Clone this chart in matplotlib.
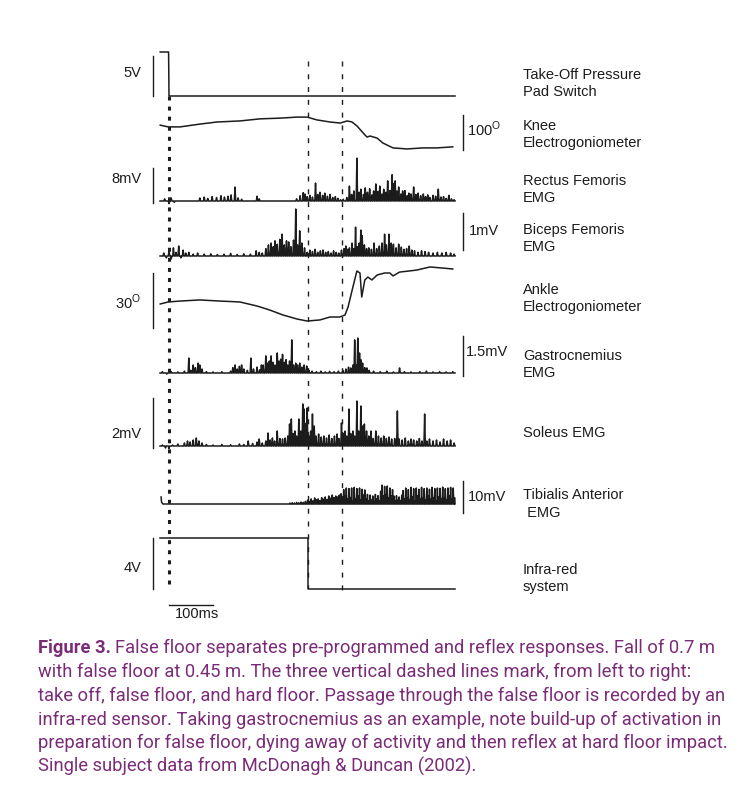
import matplotlib
matplotlib.use("Agg")
import matplotlib.pyplot as plt

plt.rcParams['font.family'] = ['Liberation Sans', 'DejaVu Sans']
plt.rcParams['mathtext.fontset'] = 'custom'
plt.rcParams['mathtext.rm'] = 'Liberation Sans'

# ---------------- data (time in ms from take-off) ----------------
events_t = [0, 316, 393]                # take off, false floor, hard floor

pad_t = [-20, -1, 0, 650]               # V
pad_v = [5.5, 5.5, 0, 0]

knee_t = [-20, -2, 25, 70, 109, 161, 207, 252, 291, 314, 336, 366, 389, 405, 416,
          427, 441, 450, 457, 473, 486, 509, 541, 577, 609, 645]
knee_v = [71, 66, 66, 74, 80, 83, 89, 91, 94, 94, 86, 80, 77, 83, 80,
          69, 49, 37, 40, 34, 20, 6, 3, 6, 6, 9]          # degrees

ankle_t = [-20, -2, 25, 70, 116, 161, 200, 229, 259, 291, 314, 343, 366, 388, 400,
           407, 418, 427, 434, 438, 445, 452, 461, 473, 490, 502, 509, 524, 563, 593, 622, 645]
ankle_v = [13.1, 14.2, 14.7, 15.3, 14.7, 14.2, 12.0, 9.8, 7.1, 4.9, 3.8, 4.4, 6.0, 6.0, 7.1,
           11.5, 22.4, 31.1, 30.0, 16.9, 26.2, 27.8, 26.2, 28.9, 30.0, 30.0, 28.4, 30.5, 31.6, 33.3, 32.7, 32.2]

ir_t = [-20, 316, 316, 650]             # V
ir_v = [4.0, 4.0, 0, 0]

# EMG peaks: (time ms, amplitude mV)
rf_spikes = [(-10, 0.5), (0, -0.6), (5, 0.7), (12, -0.3),
    (70, 0.7), (80, 0.9), (88, 0.6), (98, 1.0), (108, 0.8), (118, 1.2), (126, 0.9), (134, 1.1),
    (141, 1.4), (150, 3.2), (157, 0.7), (165, 0.4), (200, 1.1), (205, 0.5),
    (290, 0.5), (298, 1.2), (305, 1.9), (309, 1.6), (314, 1.0), (320, 1.3), (326, 0.9), (333, 4.1),
    (338, 1.5), (343, 2.0), (349, 1.3), (354, 1.8), (360, 1.1), (366, 1.5), (372, 0.8), (378, 1.0),
    (384, 0.6), (390, 0.3), (396, 0.4),
    (404, 0.8), (410, 3.4), (415, 1.5), (420, 2.3), (427, 9.8), (432, 2.0), (436, 2.7), (442, 1.5),
    (446, 3.0), (451, 2.0), (456, 2.8), (461, 1.4), (465, 2.3), (470, 3.9), (475, 2.2), (479, 3.4),
    (484, 1.6), (488, 2.7), (493, 2.0), (497, 4.6), (502, 2.4), (507, 6.0), (511, 4.0), (514, 4.6),
    (518, 2.3), (522, 3.2), (527, 1.6), (531, 2.3), (536, 2.4), (541, 1.2), (545, 1.8), (550, 1.6),
    (556, 3.2), (561, 1.5), (566, 1.8), (572, 1.2), (578, 1.6), (583, 1.0), (588, 1.4), (593, 0.8),
    (600, 1.3), (606, 1.1), (612, 2.7), (618, 0.9), (624, 1.0), (630, 0.6), (636, 1.3), (642, 0.5),
    (648, 0.3)]

bf_spikes = [(-12, 0.08), (-6, -0.05), (0, 0.16), (5, -0.08), (10, 0.22), (16, 0.1), (22, 0.27),
    (27, -0.05), (32, 0.16), (38, 0.08), (45, 0.1), (55, 0.05), (65, 0.08), (80, 0.05), (95, 0.06),
    (110, 0.04), (125, 0.05), (140, 0.07), (155, 0.04), (170, 0.06), (185, 0.05), (198, 0.14),
    (205, 0.1), (212, 0.08), (220, 0.2), (226, 0.3), (232, 0.35), (237, 0.25), (241, 0.41), (246, 0.32),
    (252, 0.45), (257, 0.59), (262, 0.3), (267, 0.41), (272, 0.38), (277, 0.25), (283, 0.43),
    (288, 1.27), (292, 0.3), (297, 0.68), (302, 0.35), (308, 0.22), (314, 0.1), (320, 0.16),
    (326, 0.12), (332, 0.18), (338, 0.1), (344, 0.14), (350, 0.16), (356, 0.1), (362, 0.12),
    (368, 0.08), (374, 0.14), (380, 0.1), (386, 0.08), (392, 0.16), (398, 0.2), (402, 0.27),
    (406, 0.18), (410, 0.22), (416, 0.35), (420, 0.2), (424, 0.78), (428, 0.25), (432, 0.35),
    (436, 0.7), (439, 0.55), (444, 0.3), (449, 0.2), (454, 0.22), (460, 0.18), (466, 0.35),
    (472, 0.2), (478, 0.27), (484, 0.35), (490, 0.59), (494, 0.3), (500, 0.59), (505, 0.35),
    (510, 0.32), (516, 0.22), (522, 0.32), (528, 0.24), (534, 0.18), (540, 0.2), (546, 0.27),
    (552, 0.16), (558, 0.14), (566, 0.1), (574, 0.14), (582, 0.12), (590, 0.1), (600, 0.08),
    (610, 0.1), (620, 0.08), (630, 0.1), (640, 0.08), (648, 0.05)]

ga_spikes = [(-15, 0.05), (-5, -0.04), (5, 0.05), (20, 0.04), (35, 0.07), (45, 0.56), (50, 0.1),
    (55, 0.3), (60, 0.2), (66, 0.37), (70, 0.3), (75, 0.15), (85, 0.05), (100, 0.04), (120, 0.05),
    (140, 0.07), (145, 0.2), (150, 0.3), (155, 0.15), (160, 0.25), (165, 0.3), (170, 0.15),
    (178, 0.1), (186, 0.56), (192, 0.15), (200, 0.22), (206, 0.12), (210, 0.3), (214, 0.3),
    (220, 0.64), (224, 0.37), (228, 0.45), (232, 0.64), (236, 0.4), (241, 0.3), (246, 0.75),
    (250, 0.45), (254, 0.52), (258, 0.7), (262, 0.4), (266, 0.5), (270, 0.3), (274, 0.45),
    (279, 1.24), (283, 0.3), (288, 0.37), (292, 0.3), (297, 0.37), (302, 0.22), (307, 0.3),
    (313, 0.26), (318, 0.1), (325, 0.07), (335, 0.05), (345, 0.07), (355, 0.04), (365, 0.06),
    (375, 0.05), (385, 0.07), (395, 0.1), (402, 0.15), (408, 0.22), (413, 0.19), (418, 0.3),
    (422, 1.24), (426, 0.3), (429, 1.31), (433, 0.75), (436, 0.5), (440, 0.37), (445, 0.2),
    (450, 0.19), (455, 0.1), (465, 0.07), (480, 0.05), (495, 0.07), (510, 0.04), (524, 0.19),
    (535, 0.05), (550, 0.04), (570, 0.05), (585, 0.07), (600, 0.04), (615, 0.05), (630, 0.04),
    (645, 0.05)]

so_spikes = [(-15, 0.04), (-8, -0.08), (0, -0.1), (8, 0.04), (20, 0.08), (35, 0.12), (42, 0.2),
    (48, 0.16), (55, 0.24), (62, 0.32), (68, 0.2), (75, 0.12), (85, 0.06), (100, 0.04), (120, 0.06),
    (140, 0.05), (160, 0.08), (170, 0.06), (180, 0.2), (190, 0.1), (200, 0.16), (205, 0.28),
    (212, 0.12), (220, 0.2), (225, 0.52), (230, 0.24), (235, 0.32), (240, 0.2), (246, 0.6),
    (252, 0.3), (258, 0.28), (264, 0.32), (270, 0.4), (274, 0.88), (278, 1.08), (282, 0.5),
    (286, 0.6), (290, 0.4), (295, 1.08), (300, 0.6), (304, 1.68), (307, 1.48), (310, 0.9),
    (314, 1.52), (318, 0.4), (322, 0.6), (326, 1.28), (330, 0.8), (334, 0.4), (340, 0.48),
    (346, 0.36), (352, 0.4), (358, 0.32), (364, 0.44), (370, 0.3), (376, 0.4), (382, 0.48),
    (386, 0.3), (392, 0.92), (396, 0.5), (400, 0.6), (404, 0.4), (409, 1.48), (413, 0.5),
    (418, 0.6), (422, 0.4), (427, 1.8), (431, 0.6), (436, 1.6), (440, 0.8), (444, 0.88),
    (449, 0.6), (454, 0.4), (459, 0.6), (464, 0.3), (470, 0.6), (476, 0.4), (482, 0.32),
    (488, 0.4), (494, 0.3), (500, 0.36), (506, 0.28), (513, 0.3), (519, 1.4), (523, 0.28),
    (530, 0.24), (537, 0.32), (544, 0.2), (550, 0.28), (556, 0.24), (563, 0.2), (569, 0.3),
    (575, 0.2), (581, 1.28), (586, 0.2), (592, 0.28), (600, 0.2), (608, 0.24), (616, 0.16),
    (624, 0.28), (632, 0.2), (640, 0.24), (648, 0.12)]

ta_lead_t = [-18, -17, -14]
ta_lead_v = [2.2, 0.6, 0.0]
ta_spikes = [(275, 0.3), (280, 0.4), (285, 0.3), (290, 0.5), (295, 0.4), (300, 0.6), (305, 0.5),
    (310, 0.8), (315, 1.2), (319, 0.8), (323, 1.6), (327, 1.0), (331, 1.9), (335, 1.3), (339, 1.6),
    (343, 1.1), (347, 2.0), (351, 1.5), (355, 2.2), (359, 1.4), (363, 2.5), (367, 1.8), (371, 2.8),
    (375, 2.0), (379, 2.5), (383, 2.2), (387, 2.8),
    (391, 3.2), (394, 2.0), (397, 4.5), (400, 2.5), (403, 5.0), (406, 1.5), (409, 4.8), (412, 2.0),
    (415, 5.0), (418, 1.0), (421, 5.2), (424, 1.5), (427, 4.8), (430, 2.5), (433, 5.0), (436, 1.2),
    (439, 4.6), (442, 2.8), (445, 4.4), (448, 1.5),
    (451, 3.0), (454, 1.0), (457, 2.8), (460, 1.2), (463, 2.5), (466, 0.8), (469, 3.0), (472, 1.6),
    (475, 2.6), (478, 1.0),
    (481, 4.0), (484, 5.9), (487, 2.5), (490, 5.5), (493, 3.0), (496, 5.6), (499, 2.0), (502, 5.0),
    (505, 2.5), (508, 4.5),
    (511, 2.5), (514, 1.0), (517, 2.6), (520, 1.2), (523, 2.2), (526, 1.0), (529, 2.8),
    (532, 4.2), (535, 1.5), (538, 5.0), (541, 2.0), (544, 4.5), (547, 1.2), (550, 5.2), (553, 2.2),
    (556, 4.8), (559, 1.0), (562, 5.0), (565, 2.5), (568, 4.6), (571, 1.5), (574, 5.2), (577, 2.0),
    (580, 4.8), (583, 1.2), (586, 5.0), (589, 2.5), (592, 4.6), (595, 1.5), (598, 5.2), (601, 2.0),
    (604, 4.8), (607, 1.0), (610, 5.0), (613, 2.2), (616, 4.9), (619, 1.5), (622, 5.3), (625, 2.0),
    (628, 4.8), (631, 1.2), (634, 5.0), (637, 2.5), (640, 5.2), (643, 1.5), (646, 5.0), (649, 2.0)]

right_labels = [["Take-Off Pressure", "Pad Switch"], ["Knee", "Electrogoniometer"],
                ["Rectus Femoris", "EMG"], ["Biceps Femoris", "EMG"],
                ["Ankle", "Electrogoniometer"], ["Gastrocnemius", "EMG"], ["Soleus EMG"],
                ["Tibialis Anterior", " EMG"], ["Infra-red", "system"]]

caption_lines = [
    "False floor separates pre-programmed and reflex responses. Fall of 0.7 m",
    "with false floor at 0.45 m. The three vertical dashed lines mark, from left to right:",
    "take off, false floor, and hard floor. Passage through the false floor is recorded by an",
    "infra-red sensor. Taking gastrocnemius as an example, note build-up of activation in",
    "preparation for false floor, dying away of activity and then reflex at hard floor impact.",
    "Single subject data from McDonagh & Duncan (2002)."]

# ---------------- layout ----------------
W, H = 735, 785
X0, X1 = 160, 455
T0, T1 = -20.5, 650
INK = '#1c1c1c'
LW = 1.1
fig = plt.figure(figsize=(W / 100, H / 100), dpi=100)
fig.patch.set_facecolor('white')

def px2ms(px):
    return T0 + (px - X0) * (T1 - T0) / (X1 - X0)

T_LEFT = px2ms(153)
T_RIGHT = px2ms(463)

# overlay for event lines and time bar (y in pixels)
ov = fig.add_axes([X0 / W, 0, (X1 - X0) / W, 1])
ov.set_xlim(T0, T1); ov.set_ylim(H, 0); ov.axis('off')
ov.vlines(events_t[0], 96, 586, color=INK, lw=2.2, linestyles=[(0, (1.3, 2.0))])
ov.vlines(events_t[1], 61, 588, color=INK, lw=1.0, linestyles=[(0, (3.6, 5.6))])
ov.vlines(events_t[2], 61, 590, color=INK, lw=1.0, linestyles=[(0, (3.6, 5.6))])
ov.plot([0, 100], [605, 605], color=INK, lw=1.0, clip_on=False)

def track(y0, ppu):
    lo, hi = -40 / ppu, 60 / ppu
    top, bot = y0 - hi * ppu, y0 - lo * ppu
    ax = fig.add_axes([X0 / W, 1 - bot / H, (X1 - X0) / W, (bot - top) / H])
    ax.set_xlim(T0, T1); ax.set_ylim(lo, hi); ax.axis('off')
    return ax

def emg(spk, d=1.6, lead_t=(), lead_v=()):
    xs, ys = list(lead_t), list(lead_v)
    if not xs:
        xs, ys = [T0], [0]
    for t, v in spk:
        xs += [t - d, t, t + d]
        ys += [0, v, 0]
    xs.append(T1); ys.append(0)
    return xs, ys

def bar(ax, t, a, b):
    ax.plot([t, t], [a, b], color=INK, lw=1.0, clip_on=False)

def ltext(x, y, s):
    fig.text(x / W, 1 - y / H, s, ha='right', va='center', fontsize=10.5, color=INK)

def rtext(x, y, s):
    fig.text(x / W, 1 - y / H, s, ha='left', va='center', fontsize=10.5, color=INK)

# 1 pad switch
a = track(96, 8.0)
a.plot(pad_t, pad_v, color=INK, lw=LW, clip_on=False)
bar(a, T_LEFT, 0, 5); ltext(141, 73, "5V")
# 2 knee
a = track(150, 0.35)
a.plot(knee_t, knee_v, color=INK, lw=LW, clip_on=False)
bar(a, T_RIGHT, 0, 100); rtext(467, 129, r"100$^{\mathrm{O}}$")
# 3 rectus femoris
a = track(201, 4.375)
x, y = emg(rf_spikes); a.plot(x, y, color=INK, lw=LW, clip_on=False)
bar(a, T_LEFT, -0.5, 7.5); ltext(141, 179, "8mV")
# 4 biceps femoris
a = track(256, 37.0)
x, y = emg(bf_spikes); a.plot(x, y, color=INK, lw=LW, clip_on=False)
bar(a, T_RIGHT, 0.16, 1.16); rtext(469, 231, "1mV")
# 5 ankle
a = track(328, 1.833)
a.plot(ankle_t, ankle_v, color=INK, lw=LW, clip_on=False)
bar(a, T_LEFT, 0, 30); ltext(141, 302, r"30$^{\mathrm{O}}$")
# 6 gastrocnemius
a = track(373, 26.7)
x, y = emg(ga_spikes); a.plot(x, y, color=INK, lw=LW, clip_on=False)
bar(a, T_RIGHT, -0.11, 1.39); rtext(466, 352, "1.5mV")
# 7 soleus
a = track(446, 25.0)
x, y = emg(so_spikes); a.plot(x, y, color=INK, lw=LW, clip_on=False)
bar(a, T_LEFT, -0.08, 1.92); ltext(141, 434, "2mV")
# 8 tibialis anterior
a = track(504, 3.2)
x, y = emg(ta_spikes, d=1.2, lead_t=ta_lead_t, lead_v=ta_lead_v)
a.plot(x, y, color=INK, lw=LW, clip_on=False)
bar(a, T_RIGHT, -2.8, 7.2); rtext(468, 497, "10mV")
# 9 infra-red
a = track(589, 12.75)
a.plot(ir_t, ir_v, color=INK, lw=LW, clip_on=False)
bar(a, T_LEFT, 0, 4); ltext(141, 568, "4V")

# time bar label
fig.text(197 / W, 1 - 614 / H, "100ms", ha='center', va='center', fontsize=10.5, color=INK)

# right-hand labels
label_y = [[75, 92], [126, 143], [181, 198], [230, 247], [290, 307], [356, 373], [433],
           [495, 513], [570, 587]]
for lines, ys in zip(right_labels, label_y):
    for s, yy in zip(lines, ys):
        rtext(523, yy, s)

# caption: size chosen so the first line spans x = 38 .. 706 px
PURPLE = '#7a2c78'
cap_y = [648, 672, 696, 720, 743, 766]
capfont = ['Roboto', 'DejaVu Sans']
renderer = fig.canvas.get_renderer()

def make_caption(fs):
    arts = []
    head = fig.text(38 / W, 1 - cap_y[0] / H, "Figure 3.", ha='left', va='center', fontsize=fs,
                    color=PURPLE, fontweight='bold', family=capfont)
    arts.append(head)
    hb = head.get_window_extent(renderer)
    for i, s in enumerate(caption_lines):
        x = (hb.x1 + 0.3 * fs) / W if i == 0 else 38 / W
        arts.append(fig.text(x, 1 - cap_y[i] / H, s, ha='left', va='center', fontsize=fs,
                             color=PURPLE, family=capfont))
    return arts

fs = 13.0
arts = make_caption(fs)
right = max(a.get_window_extent(renderer).x1 for a in arts)
scale = (727 - 38) / (right - 38)
for a in arts:
    a.remove()
make_caption(fs * scale)

fig.savefig("out.png", dpi=100, facecolor='white')
